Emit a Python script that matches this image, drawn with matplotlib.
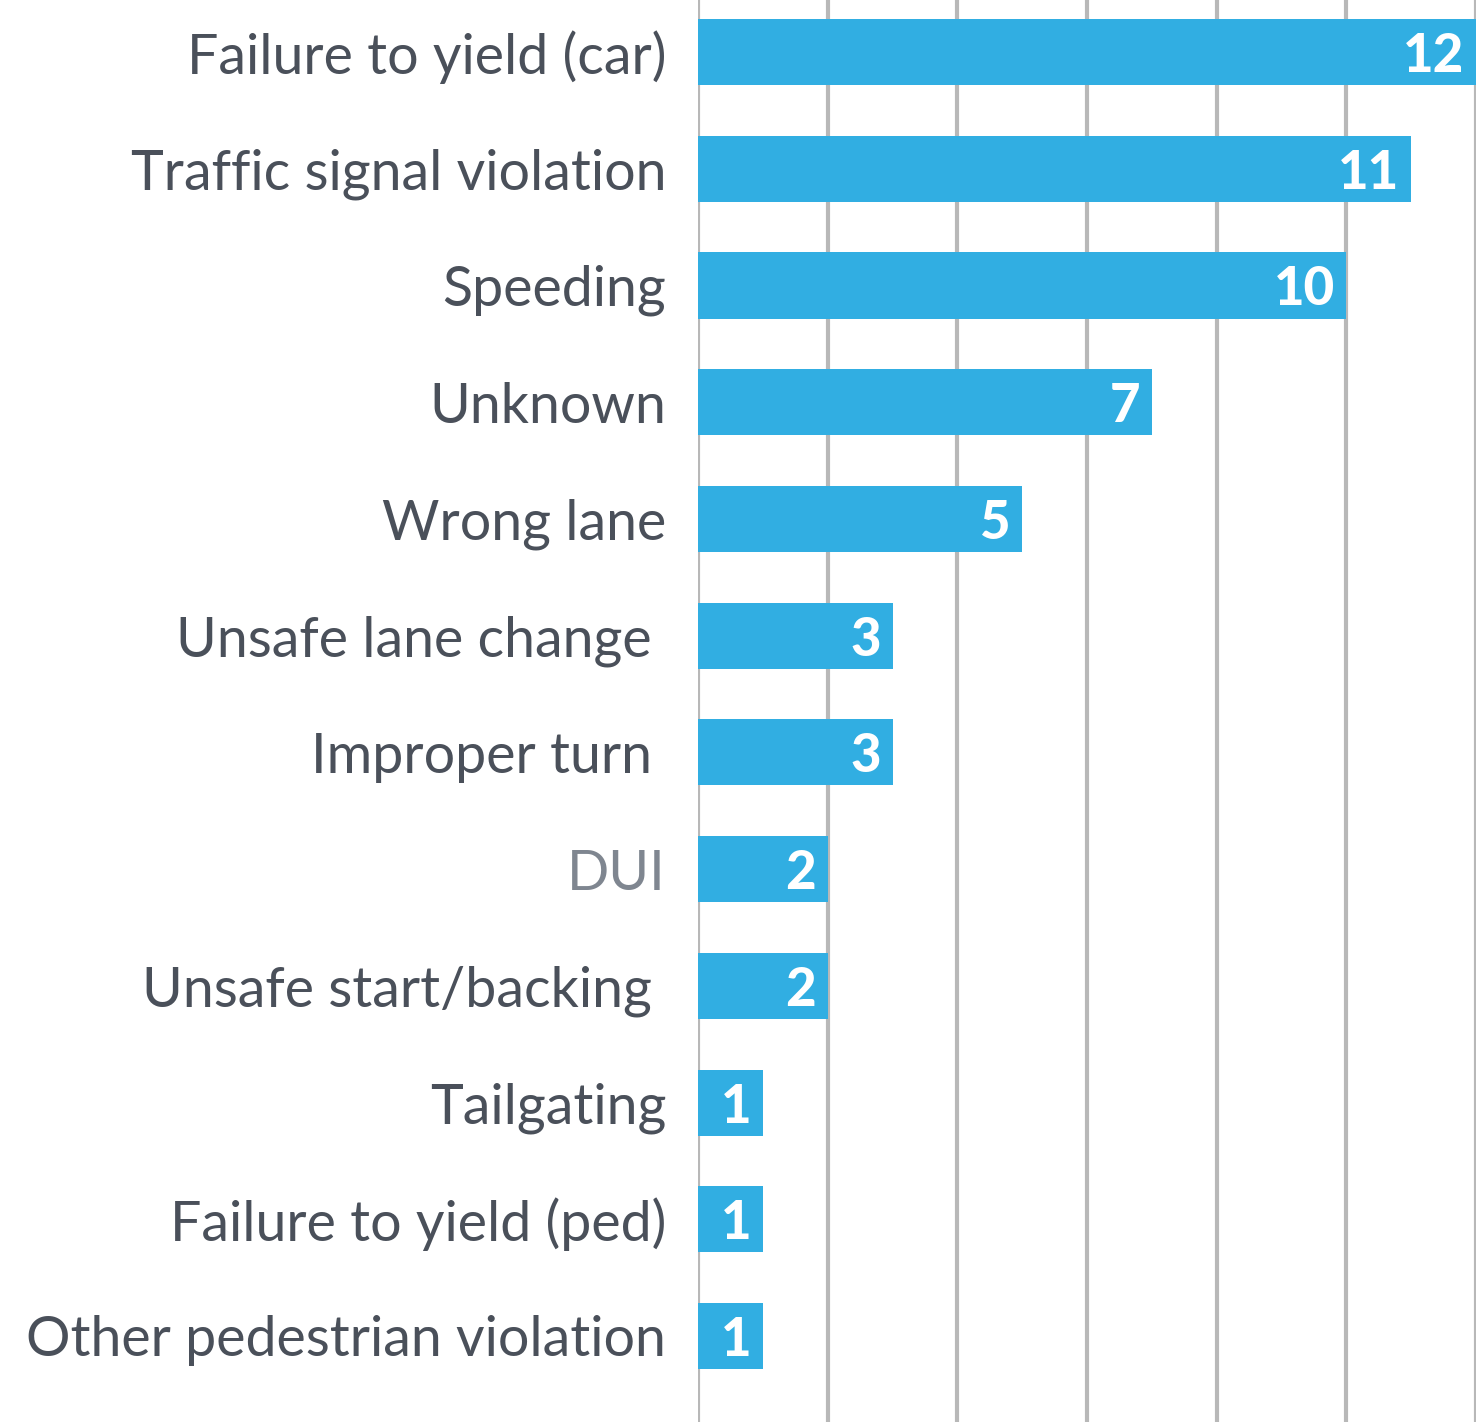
import matplotlib.pyplot as plt
import numpy as np

categories = ["Failure to yield (car)", "Traffic signal violation", "Speeding",
              "Unknown", "Wrong lane", "Unsafe lane change ", "Improper turn ",
              "DUI", "Unsafe start/backing ", "Tailgating",
              "Failure to yield (ped)", "Other pedestrian violation"]
counts = [12, 11, 10, 7, 5, 3, 3, 2, 2, 1, 1, 1]

bar_color = "#31aee2"
text_color = "#4a505a"
muted_color = "#7f8690"

fig = plt.figure(figsize=(14.76, 14.22), dpi=100)
ax = fig.add_axes([698 / 1476, 0, 1 - 698 / 1476, 1])

y = np.arange(len(categories))
ax.barh(y, counts, height=0.566, color=bar_color, zorder=2)

ax.set_xlim(0, 12.0)
ax.set_ylim(11.737, -0.446)
ax.set_xticks(np.arange(0, 13, 2))
ax.grid(axis="x", color="#b8b8b8", linewidth=3, zorder=0)
ax.tick_params(axis="both", length=0, labelbottom=False)
for s in ax.spines.values():
    s.set_visible(False)

ax.set_yticks(y)
ax.set_yticklabels(categories, fontsize=40, family="Lato", color=text_color)
ax.tick_params(axis="y", pad=23)
ax.get_yticklabels()[categories.index("DUI")].set_color(muted_color)

for yi, v in zip(y, counts):
    ax.text(v - 0.18, yi, str(v), ha="right", va="center_baseline", fontsize=38,
            fontweight="black", family="Lato", color="white", zorder=3)

fig.savefig("out.png", dpi=100)
